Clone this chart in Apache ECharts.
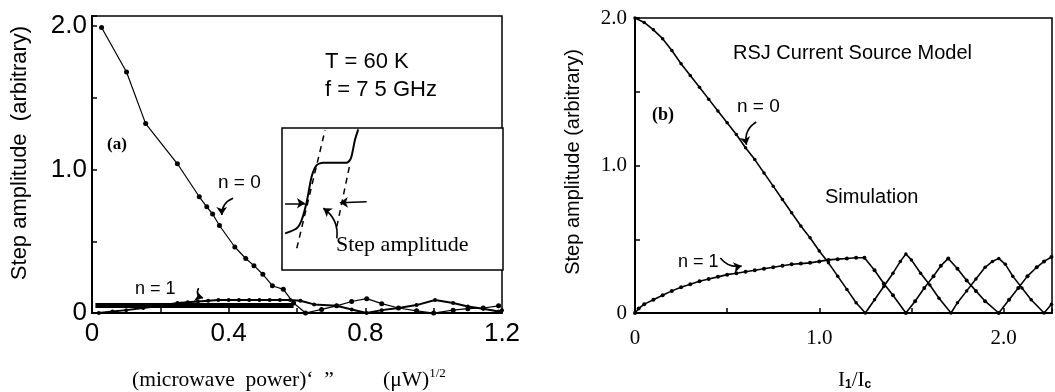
<!DOCTYPE html>
<html><head><meta charset="utf-8">
<script src="https://cdn.jsdelivr.net/npm/echarts@6/dist/echarts.min.js"></script>
<style>html,body{margin:0;padding:0;background:#fff}#c{width:1055px;height:392px}</style>
</head><body><div id="c"></div>
<script>
// ---------- Panel (a): measured step amplitudes ----------
const aN0X = [0.028,0.101,0.157,0.25,0.314,0.336,0.353,0.373,0.418,0.45,0.474,0.50,0.528,0.56,0.59,0.625,0.672,0.716,0.76,0.804,0.848,0.897,0.95,1.0,1.057,1.10,1.145,1.19];
const aN0Y = [1.99,1.68,1.32,1.04,0.81,0.74,0.69,0.61,0.46,0.38,0.33,0.27,0.19,0.165,0.07,0.0,0.025,0.05,0.08,0.10,0.065,0.035,0.015,0.0,0.02,0.03,0.035,0.05];
const aN1X = [0.02,0.06,0.10,0.15,0.20,0.25,0.28,0.31,0.34,0.37,0.40,0.43,0.46,0.49,0.52,0.55,0.58,0.61,0.65,0.716,0.76,0.804,0.848,0.897,0.95,1.004,1.057,1.10,1.145,1.19,1.2];
const aN1Y = [0.0,0.01,0.02,0.035,0.05,0.07,0.075,0.08,0.085,0.09,0.09,0.09,0.09,0.09,0.09,0.09,0.09,0.085,0.06,0.05,0.025,0.0,0.02,0.035,0.055,0.09,0.07,0.045,0.03,0.01,0.02];
const aBarX = [0.01,0.59];
const aBarY = [0.052,0.052];
const aXTickVals = [0,0.4,0.8,1.2];
const aXTickText = ['0','0.4','0.8','1.2'];
const aYTickVals = [0,1,2];
const aYTickText = ['0','1.0','2.0'];

// ---------- Panel (b): RSJ simulation ----------
const bN0X = [0,0.05,0.1,0.15,0.2,0.25,0.3,0.35,0.4,0.45,0.5,0.55,0.6,0.65,0.7,0.75,0.8,0.85,0.9,0.95,1.0,1.05,1.1,1.15,1.2,1.25,1.30,1.35,1.40,1.44,1.47,1.50,1.55,1.60,1.65,1.715,1.75,1.80,1.85,1.90,1.94,1.974,2.01,2.05,2.10,2.15,2.22,2.26];
const bN0Y = [2.0,1.97,1.92,1.86,1.78,1.69,1.61,1.53,1.45,1.37,1.29,1.21,1.12,1.04,0.95,0.86,0.77,0.68,0.59,0.51,0.42,0.34,0.25,0.16,0.07,0.0,0.09,0.18,0.27,0.35,0.40,0.36,0.27,0.19,0.10,0.0,0.07,0.15,0.23,0.31,0.35,0.37,0.33,0.25,0.17,0.09,0.0,0.06];
const bN1X = [0,0.02,0.05,0.1,0.15,0.2,0.25,0.3,0.35,0.4,0.45,0.5,0.55,0.6,0.65,0.7,0.75,0.8,0.85,0.9,0.95,1.0,1.05,1.1,1.15,1.2,1.245,1.30,1.35,1.40,1.47,1.52,1.57,1.62,1.66,1.70,1.75,1.80,1.85,1.90,1.974,2.03,2.08,2.13,2.18,2.22,2.26];
const bN1Y = [0,0.03,0.06,0.09,0.12,0.15,0.175,0.195,0.215,0.23,0.245,0.26,0.27,0.28,0.29,0.30,0.31,0.32,0.33,0.335,0.34,0.35,0.36,0.365,0.37,0.375,0.375,0.29,0.20,0.12,0.0,0.08,0.17,0.25,0.32,0.37,0.30,0.22,0.15,0.08,0.0,0.09,0.17,0.25,0.31,0.35,0.38];
const bXTickVals = [0,1,2];
const bXTickText = ['0','1.0','2.0'];
const bYTickVals = [0,1,2];
const bYTickText = ['0','1.0','2.0'];

// ---------- Inset schematic (arbitrary units 0..10) ----------
const insCurveX = [0.14,0.67,0.89,1.12,1.34,1.57,1.87,2.93,3.12,3.30,3.45];
const insCurveY = [2.58,2.94,3.52,4.81,6.57,7.39,7.56,7.56,7.87,9.15,9.9];
const insDash1X = [0.67,1.95], insDash1Y = [1.53,9.86];
const insDash2X = [2.48,3.08], insDash2Y = [3.05,7.51];

// annotation arrows [x1,y1,x2,y2]
const arrA_n0 = [0.413,0.80,0.38,0.683];
const arrA_n1 = [0.312,0.174,0.325,0.105];
const arrB_n0 = [0.658,1.295,0.605,1.14];
const arrB_n1 = [0.463,0.373,0.579,0.319];
const arrIns1 = [0.14,4.70,1.04,4.70];
const arrIns2 = [3.83,4.81,2.62,4.74];
const arrIns3 = [2.48,2.23,1.87,4.35];

const zip = (xs, ys) => xs.map((x, i) => [x, ys[i]]);
const fmt = (vals, txt) => v => { const i = vals.findIndex(t => Math.abs(t - v) < 1e-6); return i >= 0 ? txt[i] : ''; };

const black = '#000';
function axisCommon(extra) {
  return Object.assign({
    type: 'value',
    axisLine: { onZero: false, lineStyle: { color: black, width: 2 } },
    axisTick: { inside: true, length: 5, lineStyle: { color: black, width: 1.5 } },
    splitLine: { show: false },
    axisLabel: { color: black, showMinLabel: true, showMaxLabel: true }
  }, extra);
}
function arrow(a, xi, curv) {
  return {
    type: 'lines', coordinateSystem: 'cartesian2d', xAxisIndex: xi, yAxisIndex: xi,
    symbol: ['none', 'arrow'], symbolSize: 8, silent: true,
    lineStyle: { color: black, width: 1.6, curveness: curv, opacity: 1 },
    data: [{ coords: [[a[0], a[1]], [a[2], a[3]]] }], z: 5
  };
}
function txt(x, y, text, font, extra) {
  return Object.assign({ type: 'text', x: x, y: y,
    style: { text: text, font: font, fill: black, verticalAlign: 'middle', textVerticalAlign: 'middle' } }, extra || {});
}

const chart = echarts.init(document.getElementById('c'), null, { renderer: 'canvas' });
const option = {
  animation: false,
  backgroundColor: '#fff',
  grid: [
    { left: 92, top: 16, width: 410, height: 297, show: true, borderColor: black, borderWidth: 1.5 },
    { left: 635, top: 18, width: 430, height: 295, show: true, borderColor: black, borderWidth: 1.5 },
    { left: 282, top: 128, width: 221, height: 142, show: true, borderColor: black, borderWidth: 1.5, backgroundColor: '#fff' }
  ],
  xAxis: [
    axisCommon({ gridIndex: 0, min: 0, max: 1.2, interval: 0.2,
      axisLabel: { color: black, formatter: fmt(aXTickVals, aXTickText), fontFamily: 'Liberation Sans', fontSize: 26, margin: 8, showMinLabel: true, showMaxLabel: true } }),
    axisCommon({ gridIndex: 1, min: 0, max: 2.263, interval: 0.5,
      axisLabel: { color: black, formatter: fmt(bXTickVals, bXTickText), fontFamily: 'Liberation Serif', fontSize: 21, margin: 15, showMinLabel: true, showMaxLabel: true } }),
    { gridIndex: 2, type: 'value', min: 0, max: 10, show: false }
  ],
  yAxis: [
    axisCommon({ gridIndex: 0, min: 0, max: 2.07, interval: 0.5,
      axisLabel: { color: black, formatter: fmt(aYTickVals, aYTickText), fontFamily: 'Liberation Sans', fontSize: 26, margin: 5, showMinLabel: true, showMaxLabel: true } }),
    axisCommon({ gridIndex: 1, min: 0, max: 2.0, interval: 0.5,
      axisLabel: { color: black, formatter: fmt(bYTickVals, bYTickText), fontFamily: 'Liberation Serif', fontSize: 21, margin: 8, showMinLabel: true, showMaxLabel: true } }),
    { gridIndex: 2, type: 'value', min: 0, max: 10, show: false }
  ],
  series: [
    { type: 'line', xAxisIndex: 0, yAxisIndex: 0, data: zip(aBarX, aBarY), showSymbol: false, symbol: 'none',
      lineStyle: { color: black, width: 5 }, z: 3 },
    { type: 'line', xAxisIndex: 0, yAxisIndex: 0, data: zip(aN0X, aN0Y), symbol: 'circle', symbolSize: 5,
      itemStyle: { color: black }, lineStyle: { color: black, width: 1.2 }, z: 4 },
    { type: 'line', xAxisIndex: 0, yAxisIndex: 0, data: zip(aN1X, aN1Y), symbol: 'circle', symbolSize: 4,
      itemStyle: { color: black }, lineStyle: { color: black, width: 2 }, z: 4 },
    { type: 'line', xAxisIndex: 1, yAxisIndex: 1, data: zip(bN0X, bN0Y), symbol: 'circle', symbolSize: 3.5,
      itemStyle: { color: black }, lineStyle: { color: black, width: 1.6 }, z: 4 },
    { type: 'line', xAxisIndex: 1, yAxisIndex: 1, data: zip(bN1X, bN1Y), symbol: 'circle', symbolSize: 4,
      itemStyle: { color: black }, lineStyle: { color: black, width: 1.6 }, z: 4 },
    { type: 'line', xAxisIndex: 2, yAxisIndex: 2, data: zip(insCurveX, insCurveY), showSymbol: false, symbol: 'none', smooth: 0.25,
      lineStyle: { color: black, width: 2 }, z: 4 },
    { type: 'line', xAxisIndex: 2, yAxisIndex: 2, data: zip(insDash1X, insDash1Y), showSymbol: false, symbol: 'none',
      lineStyle: { color: black, width: 1.5, type: [6, 5] }, z: 4 },
    { type: 'line', xAxisIndex: 2, yAxisIndex: 2, data: zip(insDash2X, insDash2Y), showSymbol: false, symbol: 'none',
      lineStyle: { color: black, width: 1.5, type: [6, 5] }, z: 4 },
    arrow(arrA_n0, 0, -0.35),
    arrow(arrA_n1, 0, -0.6),
    arrow(arrB_n0, 1, -0.35),
    arrow(arrB_n1, 1, -0.3),
    arrow(arrIns1, 2, 0),
    arrow(arrIns2, 2, 0),
    arrow(arrIns3, 2, -0.3)
  ],
  graphic: [
    { type: 'text', x: 20, y: 153, rotation: Math.PI / 2,
      style: { text: 'Step amplitude  (arbitrary)', font: '22px "Liberation Sans"', fill: black, align: 'center', verticalAlign: 'middle', textAlign: 'center', textVerticalAlign: 'middle' } },
    { type: 'text', x: 573, y: 162, rotation: Math.PI / 2,
      style: { text: 'Step amplitude (arbitrary)', font: '20px "Liberation Sans"', fill: black, align: 'center', verticalAlign: 'middle', textAlign: 'center', textVerticalAlign: 'middle' } },
    { type: 'text', x: 132, y: 380,
      style: { text: '{a|(microwave  power)‘  ”}', rich: { a: { font: '21.5px "Liberation Serif"', fill: black } }, fill: black, verticalAlign: 'middle', textVerticalAlign: 'middle' } },
    { type: 'text', x: 383, y: 380,
      style: { text: '{a|(μW)}{s|1/2}', rich: { a: { font: '21.5px "Liberation Serif"', fill: black, color: black }, s: { font: '13px "Liberation Serif"', fill: black, color: black, padding: [0, 0, 13, 0] } }, fill: black, verticalAlign: 'middle', textVerticalAlign: 'middle' } },
    { type: 'text', x: 838, y: 380,
      style: { text: '{a|I}{p|1}{a|/I}{p|c}', rich: { a: { font: '21px "Liberation Serif"', fill: black, color: black }, p: { font: 'bold 12px "Liberation Sans"', fill: black, color: black, padding: [10, 0, 0, 0] } }, fill: black, verticalAlign: 'middle', textVerticalAlign: 'middle' } },
    txt(325, 62, 'T = 60 K', '22px "Liberation Sans"'),
    txt(325, 90, 'f = 7 5 GHz', '22px "Liberation Sans"'),
    txt(107, 145, '(a)', 'bold 17px "Liberation Serif"'),
    txt(218, 183, 'n = 0', '19px "Liberation Sans"'),
    txt(135, 289, 'n = 1', '18px "Liberation Sans"'),
    txt(336, 245, 'Step amplitude', '22px "Liberation Serif"'),
    txt(733, 53, 'RSJ Current Source Model', '20px "Liberation Sans"'),
    txt(652, 115, '(b)', 'bold 18px "Liberation Serif"'),
    txt(737, 107, 'n = 0', '19px "Liberation Sans"'),
    txt(825, 197, 'Simulation', '20px "Liberation Sans"'),
    txt(678, 262, 'n = 1', '18px "Liberation Sans"')
  ]
};
chart.setOption(option);
</script>
</body></html>
